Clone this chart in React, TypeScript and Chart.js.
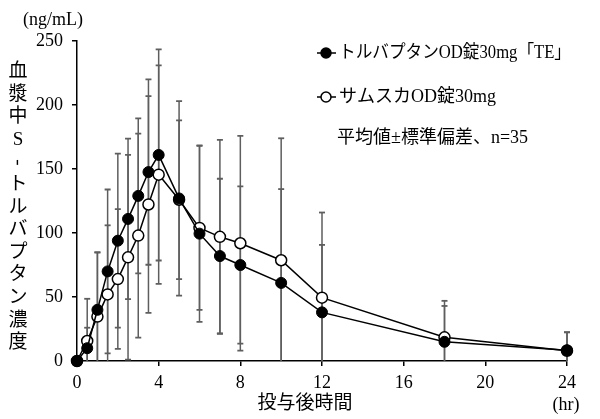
import React, { useEffect, useRef } from "react";
import { Chart, registerables, Plugin } from "chart.js";

Chart.register(...registerables);

// sampling times (hr)
const hours = [0, 0.5, 1, 1.5, 2, 2.5, 3, 3.5, 4, 5, 6, 7, 8, 10, 12, 18, 24];

// トルバプタンOD錠30mg「TE」 mean / SD (ng/mL)
const teMean = [0, 10, 40, 70, 94, 111, 129, 147.6, 161, 127, 99.5, 82, 75, 61, 38, 15, 8.4];
const teSd = [0, 16, 45, 64, 68, 62.7, 60.6, 72.4, 82.5, 76, 69, 60.4, 61.4, 73.3, 52.7, 28, 14];

// サムスカOD錠30mg mean / SD (ng/mL)
const samscaMean = [0, 15.6, 34.7, 52, 64, 81, 98, 122.3, 145.6, 126, 104, 97, 92, 78.7, 49.5, 18.5, 8];
const samscaSd = [0, 33, 50, 54, 54.6, 80, 79.7, 84.7, 85.4, 62, 64, 75.7, 83.9, 95.3, 66.5, 28.5, 14.5];

const xTicks = [0, 4, 8, 12, 16, 20, 24];
const yTicks = [0, 50, 100, 150, 200, 250];

const seriesLabels = ["トルバプタンOD錠30mg「TE」", "サムスカOD錠30mg"];
const noteText = "平均値±標準偏差、n=35";
const yUnit = "(ng/mL)";
const yTitle = ["血", "漿", "中", "S", "-", "ト", "ル", "バ", "プ", "タ", "ン", "濃", "度"];
const xTitle = "投与後時間";
const xUnit = "(hr)";

const FONT = '"Liberation Serif", "Noto Sans CJK JP", serif';

const errorBars: Plugin<"line"> = {
  id: "errorBars",
  beforeDatasetsDraw(chart) {
    const { ctx, scales } = chart;
    const xs = scales.x;
    const ys = scales.y;
    ctx.save();
    ctx.strokeStyle = "#5e5e5e";
    const sets: [number[], number[]][] = [
      [teMean, teSd],
      [samscaMean, samscaSd],
    ];
    sets.forEach(([mean, sd]) => {
      hours.forEach((h, i) => {
        if (!sd[i]) return;
        const px = xs.getPixelForValue(h);
        const top = ys.getPixelForValue(mean[i] + sd[i]);
        const low = mean[i] - sd[i];
        const bottom = ys.getPixelForValue(Math.max(low, 0));
        ctx.lineWidth = 1.5;
        ctx.beginPath();
        ctx.moveTo(px, top);
        ctx.lineTo(px, bottom);
        ctx.stroke();
        ctx.lineWidth = 1.8;
        ctx.beginPath();
        ctx.moveTo(px - 3, top);
        ctx.lineTo(px + 3, top);
        if (low > 0) {
          ctx.moveTo(px - 3, bottom);
          ctx.lineTo(px + 3, bottom);
        }
        ctx.stroke();
      });
    });
    ctx.restore();
  },
};

const annotations: Plugin<"line"> = {
  id: "annotations",
  afterDraw(chart) {
    const { ctx } = chart;
    ctx.save();
    ctx.fillStyle = "#000";
    ctx.strokeStyle = "#000";
    ctx.textBaseline = "middle";

    // unit labels
    ctx.font = `18px ${FONT}`;
    ctx.textAlign = "left";
    ctx.fillText(yUnit, 23, 20);
    ctx.textAlign = "center";
    ctx.fillText(xUnit, 566, 405);

    // x title
    ctx.font = `19px ${FONT}`;
    ctx.fillText(xTitle, 305, 404);

    // vertical y title
    yTitle.forEach((ch, i) => {
      const cy = 72 + i * 22.6;
      if (ch === "-") {
        ctx.save();
        ctx.translate(18, cy);
        ctx.rotate(Math.PI / 2);
        ctx.fillText(ch, 0, 0);
        ctx.restore();
      } else {
        ctx.fillText(ch, 18, cy);
      }
    });

    // legend
    const rows = [
      { y: 53, fill: "#000", w: 232 },
      { y: 97, fill: "#fff", w: 160 },
    ];
    rows.forEach((r, i) => {
      ctx.lineWidth = 1.5;
      ctx.beginPath();
      ctx.moveTo(317, r.y);
      ctx.lineTo(336, r.y);
      ctx.stroke();
      ctx.beginPath();
      ctx.arc(326, r.y, 5, 0, Math.PI * 2);
      ctx.fillStyle = r.fill;
      ctx.fill();
      ctx.stroke();
      ctx.fillStyle = "#000";
      ctx.textAlign = "left";
      ctx.font = `18px ${FONT}`;
      ctx.fillText(seriesLabels[i], 339, r.y, r.w);
    });
    ctx.fillText(noteText, 337, 138, 215);
    ctx.restore();
  },
};

const App: React.FC = () => {
  const canvasRef = useRef<HTMLCanvasElement | null>(null);

  useEffect(() => {
    if (!canvasRef.current) return;
    const ctx = canvasRef.current.getContext("2d");
    if (!ctx) return;

    const tickFont = { family: FONT, size: 18 };

    const chart = new Chart(ctx, {
      type: "line",
      data: {
        datasets: [
          {
            label: seriesLabels[0],
            data: hours.map((h, i) => ({ x: h, y: teMean[i] })),
            borderColor: "#000",
            borderWidth: 1.5,
            pointRadius: 5.5,
            pointBackgroundColor: "#000",
            pointBorderColor: "#000",
            pointBorderWidth: 1,
            clip: false,
          },
          {
            label: seriesLabels[1],
            data: hours.map((h, i) => ({ x: h, y: samscaMean[i] })),
            borderColor: "#000",
            borderWidth: 1.5,
            pointRadius: 5.5,
            pointBackgroundColor: "#fff",
            pointBorderColor: "#000",
            pointBorderWidth: 1.5,
            clip: false,
          },
        ],
      },
      options: {
        animation: false,
        responsive: false,
        layout: { padding: { top: 41, right: 33, left: 0, bottom: 0 } },
        plugins: {
          legend: { display: false },
          tooltip: { enabled: false },
        },
        scales: {
          x: {
            type: "linear",
            min: 0,
            max: 24,
            afterBuildTicks: (s) => {
              s.ticks = xTicks.map((v) => ({ value: v }));
            },
            afterFit: (s) => {
              s.height = 58;
            },
            ticks: { color: "#000", font: tickFont, padding: 6, maxRotation: 0 },
            grid: { drawOnChartArea: false, tickLength: 5, color: "#000", lineWidth: 1.5 },
            border: { color: "#000", width: 1.5 },
          },
          y: {
            type: "linear",
            min: 0,
            max: 250,
            afterBuildTicks: (s) => {
              s.ticks = yTicks.map((v) => ({ value: v }));
            },
            afterFit: (s) => {
              s.width = 77;
            },
            ticks: { color: "#000", font: tickFont, padding: 9 },
            grid: { drawOnChartArea: false, tickLength: 5, color: "#000", lineWidth: 1.5 },
            border: { color: "#000", width: 1.5 },
          },
        },
      },
      plugins: [errorBars, annotations],
    });

    return () => {
      chart.destroy();
    };
  }, []);

  return (
    <div style={{ position: "absolute", left: 0, top: 0, width: 600, height: 419, background: "#fff" }}>
      <canvas ref={canvasRef} width={600} height={419} />
    </div>
  );
};

export default App;
